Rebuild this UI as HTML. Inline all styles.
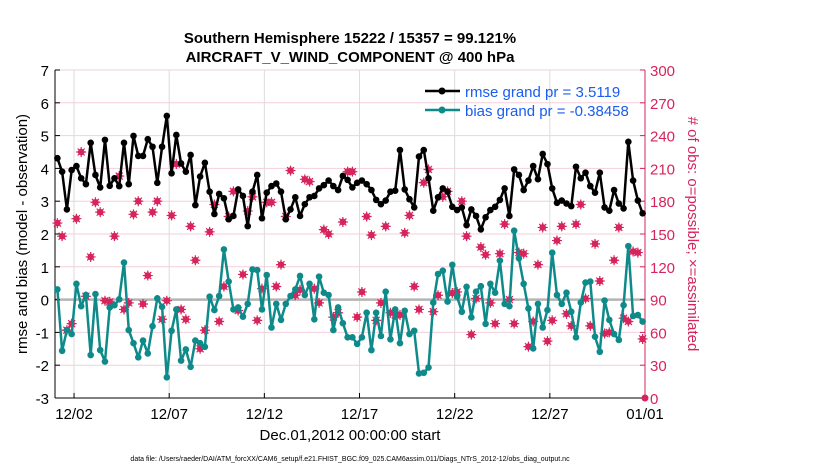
<!DOCTYPE html>
<html><head><meta charset="utf-8"><style>
body{margin:0;background:#fff;}
svg{display:block;font-family:"Liberation Sans",Arial,sans-serif;}
</style></head><body>
<svg id="chart" width="830" height="470" viewBox="0 0 830 470" xmlns="http://www.w3.org/2000/svg">
<text x="350" y="43" font-size="15" font-weight="bold" text-anchor="middle">Southern Hemisphere 15222 / 15357 = 99.121%</text>
<text x="350" y="62" font-size="15" font-weight="bold" text-anchor="middle">AIRCRAFT_V_WIND_COMPONENT @ 400 hPa</text>
<g id="grid"></g><g id="axes"></g><g id="marks"></g>
<text x="350" y="440" font-size="15" text-anchor="middle">Dec.01,2012 00:00:00 start</text>
<text x="350" y="461" font-size="7" text-anchor="middle">data file: /Users/raeder/DAI/ATM_forcXX/CAM6_setup/f.e21.FHIST_BGC.f09_025.CAM6assim.011/Diags_NTrS_2012-12/obs_diag_output.nc</text>
<text transform="translate(27,234) rotate(-90)" font-size="15" text-anchor="middle">rmse and bias (model - observation)</text>
<text transform="translate(688,234) rotate(90)" font-size="15" fill="#d6245c" text-anchor="middle"># of obs: o=possible; ×=assimilated</text>
<g>
<line x1="425" y1="91" x2="460" y2="91" stroke="#000" stroke-width="2.5"/><circle cx="442" cy="91" r="3.5" fill="#000"/>
<text x="465" y="97" font-size="15" fill="#1a5cf0">rmse grand pr = 3.5119</text>
<line x1="425" y1="110" x2="460" y2="110" stroke="#0e8a8a" stroke-width="2.5"/><circle cx="442" cy="110" r="3.5" fill="#0e8a8a"/>
<text x="465" y="116" font-size="15" fill="#1a5cf0">bias grand pr = -0.38458</text>
</g>
</svg>
<script>
const rmse=[4.31,3.90,2.75,3.95,4.07,3.70,3.52,4.78,3.80,3.42,4.87,3.47,3.70,3.46,4.78,3.52,4.99,4.38,4.38,4.89,4.66,3.56,4.66,5.60,3.85,5.02,4.15,3.90,4.41,2.88,3.75,
4.17,3.29,2.61,3.22,3.09,2.45,2.55,3.36,3.16,2.24,3.29,3.80,2.48,3.26,3.46,3.54,3.29,2.45,2.75,3.12,2.55,2.91,3.12,3.16,3.39,3.49,3.63,3.46,3.34,3.77,3.65,
3.42,3.56,3.63,3.52,3.34,3.04,2.91,3.02,3.29,3.32,4.56,3.36,3.06,2.81,4.36,4.56,3.70,2.71,3.12,3.39,3.29,2.83,2.73,2.81,2.27,2.75,2.55,2.14,2.51,2.73,2.83,3.04,
3.39,2.55,3.97,3.80,3.34,3.63,4.07,3.67,4.44,4.13,3.39,2.95,3.02,2.93,2.85,4.05,3.70,3.87,3.46,3.26,3.87,2.81,2.71,3.34,2.93,2.78,4.81,3.63,3.02,2.63];
const bias=[0.31,-1.56,-0.93,-1.05,0.48,-0.20,0.14,-1.69,0.17,-1.54,-1.89,-0.24,-0.17,0.01,1.13,-0.93,-1.33,-1.76,-1.25,-1.64,-0.81,0.04,-0.22,-2.37,-0.95,-0.30,-1.86,-1.52,-2.05,-1.25,-1.33,
-1.44,0.09,-0.32,0.11,1.53,0.55,-0.30,-0.24,-0.52,-0.13,0.92,0.90,-0.30,0.75,-0.85,-0.13,-0.62,-0.13,0.11,0.31,0.72,0.14,0.48,-0.60,0.70,0.21,0.14,-0.93,-0.24,-0.72,-1.15,
-1.15,-1.35,-1.15,-0.40,-1.54,-0.40,-1.11,0.24,-1.21,-0.30,-1.33,-0.34,-1.05,-0.95,-2.25,-2.23,-2.07,-0.09,0.78,0.88,-0.06,1.06,0.09,-0.37,0.39,-0.54,0.24,0.41,-0.74,0.48,0.21,1.19,
-0.13,-0.20,2.10,1.26,0.48,-0.27,-1.49,-0.13,-0.85,-0.32,1.43,0.14,-0.13,0.21,-0.37,-1.15,-0.09,0.52,0.55,-1.13,-1.59,-0.03,-0.62,-1.05,-1.23,-0.17,1.63,-0.50,-0.47,-0.67];
const nobs=[160,148,62,68,164,225,93,129,179,170,89,88,148,203,81,87,168,180,86,112,170,180,72,89,167,214,81,72,157,126,45,
62,152,177,70,102,166,189,80,113,171,184,71,100,179,179,102,122,166,208,94,99,200,198,100,87,154,150,74,78,161,207,
207,74,97,166,149,71,87,157,78,76,76,151,167,102,81,197,209,79,94,184,189,96,97,180,148,58,91,138,131,87,68,132,
159,90,68,133,132,47,70,122,156,52,71,144,157,77,66,159,177,91,66,141,107,59,60,126,156,73,70,134,133,54];
const yTicks=[-3,-2,-1,0,1,2,3,4,5,6,7];
const rTicks=[0,30,60,90,120,150,180,210,240,270,300];
const xTickDays=[1,6,11,16,21,26,31];
const xTickLabels=["12/02","12/07","12/12","12/17","12/22","12/27","01/01"];

const NS="http://www.w3.org/2000/svg";
const L=55,R=645,T=70,B=398;
const xs=d=>L+(R-L)*d/31;
const ys=v=>B-(B-T)*(v+3)/10;
const yr=c=>B-(B-T)*c/300;
const dayOf=i=>0.125+0.25*i;
function mk(tag,attrs,parent){const e=document.createElementNS(NS,tag);for(const k in attrs)e.setAttribute(k,attrs[k]);parent.appendChild(e);return e;}
const grid=document.getElementById('grid'),axes=document.getElementById('axes'),marks=document.getElementById('marks');

yTicks.forEach(v=>{
  const g=mk('line',{x1:L,x2:R,y1:ys(v),y2:ys(v),stroke:'#f3cfdc','stroke-width':1},grid);
  
  
  const t=mk('text',{x:L-6,y:ys(v)+6,'font-size':15,'text-anchor':'end'},axes);t.textContent=v;
  
  
  mk('line',{x1:L,x2:L+5,y1:ys(v),y2:ys(v),stroke:'#000'},axes);
});
rTicks.forEach(c=>{
  const t=mk('text',{x:R+5,y:yr(c)+6,'font-size':15,fill:'#d6245c'},axes);t.textContent=c;
  
  
  mk('line',{x1:R-5,x2:R,y1:yr(c),y2:yr(c),stroke:'#d6245c'},axes);
});
xTickDays.forEach((d,i)=>{
  const g=mk('line',{x1:xs(d),x2:xs(d),y1:T,y2:B,stroke:'#dcdcdc','stroke-width':1},grid);
  
  
  mk('line',{x1:xs(d),x2:xs(d),y1:B,y2:B-5,stroke:'#000'},axes);
  const t=mk('text',{x:xs(d),y:B+21,'font-size':15,'text-anchor':'middle'},axes);t.textContent=xTickLabels[i];
  
  
});
const z=mk('line',{x1:L,x2:R,y1:ys(0),y2:ys(0),stroke:'#b4b4b4','stroke-width':2.5},grid);


mk('line',{x1:L,x2:L,y1:T,y2:B,stroke:'#000'},axes);
mk('line',{x1:L,x2:R,y1:B,y2:B,stroke:'#000'},axes);
mk('line',{x1:R,x2:R,y1:T,y2:B,stroke:'#d6245c'},axes);

// obs counts
nobs.forEach((c,i)=>{
  const x=xs(dayOf(i)),y=yr(c);
  const g=mk('g',{},marks);
  
  
  mk('circle',{cx:x,cy:y,r:3.3,fill:'#d6245c'},g);
  mk('path',{d:`M${x-5} ${y}H${x+5}M${x} ${y-5}V${y+5}M${x-3.5} ${y-3.5}L${x+3.5} ${y+3.5}M${x-3.5} ${y+3.5}L${x+3.5} ${y-3.5}`,stroke:'#d6245c','stroke-width':1.2},g);
});
const endM=mk('circle',{cx:R,cy:yr(0),r:3.5,fill:'#d6245c'},marks);



function series(vals,color,name){
  const pts=vals.map((v,i)=>xs(dayOf(i)).toFixed(1)+','+ys(v).toFixed(1)).join(' ');
  const pl=mk('polyline',{points:pts,fill:'none',stroke:color,'stroke-width':2.5,'stroke-linejoin':'round'},marks);
  
  
  vals.forEach((v,i)=>{
    const c=mk('circle',{cx:xs(dayOf(i)),cy:ys(v),r:3.3,fill:color},marks);
    
    
  });
}
series(bias,'#0e8a8a','bias');
series(rmse,'#000000','rmse');
</script>
</body></html>
